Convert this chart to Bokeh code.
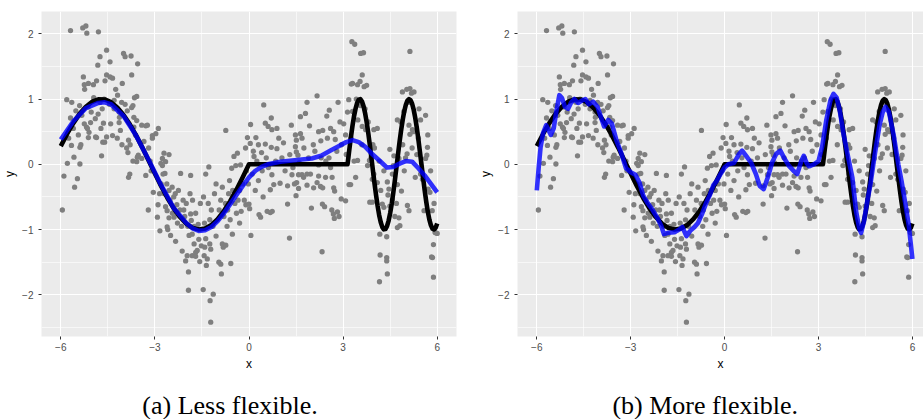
from bokeh.plotting import figure
from bokeh.models import FixedTicker, Label, Range1d
from bokeh.layouts import row, column
from bokeh.embed import file_html
from bokeh.resources import INLINE

# ---------------- data ----------------
band_1 = [(-5.95,-0.70),(-5.90,-0.18),(-5.81,0.99),(-5.79,0.015),(-5.69,2.05),(-5.65,0.95),
          (-5.69,0.71),(-5.66,0.29),(-5.58,0.11),(-5.56,-0.35),(-5.60,0.55),(-5.75,0.40),(-5.52,0.82)]
band_2 = [(-5.47,-0.22),(-5.44,0.45),(-5.39,0.005),(-5.39,0.26),(-5.36,0.30),(-5.30,2.09),(-5.20,2.12),
          (-5.17,2.01),(-5.28,1.34),(-5.25,1.22),(-5.24,1.15),(-5.12,1.24),(-5.18,0.57),(-5.12,0.41),
          (-5.10,0.49),(-5.05,0.64),(-5.03,0.80),(-5.13,0.88),(-5.33,0.75),(-5.25,0.62),(-5.15,0.55),(-5.40,0.90)]
band_3 = [(-4.96,1.22),(-4.89,0.42),(-4.86,0.41),(-4.80,2.03),(-4.82,1.52),(-4.75,1.65),(-4.86,1.28),
          (-4.81,0.77),(-4.70,0.13),(-4.66,0.34),(-4.64,0.63),(-4.60,0.34),(-4.54,0.42),(-4.54,1.75),
          (-4.54,1.37),(-4.59,1.28),(-4.62,1.00),(-4.75,0.95),(-4.68,0.85),(-4.95,1.02),(-4.72,0.55),(-4.90,0.70)]
band_4 = [(-4.43,1.57),(-4.43,1.34),(-4.35,1.32),(-4.41,0.62),(-4.35,0.44),(-4.19,1.06),(-4.14,0.80),
          (-4.13,0.72),(-4.14,0.64),(-4.10,0.52),(-4.06,0.95),(-4.04,1.24),(-4.00,1.70),(-4.45,0.92),
          (-4.30,0.85),(-4.25,1.15),(-4.05,0.30),(-4.30,0.98),(-4.20,0.40)]
band_5 = [(-3.95,1.65),(-3.95,0.92),(-3.88,0.82),(-3.90,0.25),(-3.84,0.37),(-3.79,0.30),(-3.86,0.18),
          (-3.76,1.66),(-3.74,1.37),(-3.74,0.87),(-3.70,0.90),(-3.65,1.02),(-3.58,1.04),(-3.67,0.72),
          (-3.67,0.57),(-3.55,1.54),(-3.58,0.67),(-3.56,0.11),(-3.53,0.14),(-3.58,0.04),(-3.80,-0.15),
          (-3.84,-0.20),(-3.70,0.05),(-3.62,0.45)]
band_6 = [(-3.42,0.60),(-3.42,0.09),(-3.29,0.59),(-3.29,-0.17),(-3.24,0.60),(-3.08,0.44),(-3.08,0.40),
          (-3.21,-0.70),(-3.15,0.05),(-3.05,-0.43),(-3.35,0.35),(-3.20,0.25),(-3.12,-0.10)]
band_7 = [(-2.97,0.47),(-2.89,0.55),(-2.92,-0.81),(-2.84,-1.02),(-2.81,0.015),(-2.76,0.09),(-2.76,-0.02),
          (-2.71,0.17),(-2.68,-0.14),(-2.66,0.04),(-2.66,-0.65),(-2.61,-0.71),(-2.55,0.15),(-2.55,-0.82),
          (-2.61,-0.96),(-2.59,-1.00),(-2.50,-1.09),(-2.74,-0.15),(-2.80,-0.30),(-2.70,-0.45),(-2.62,-0.30),
          (-2.55,-0.40),(-2.52,-0.55),(-2.90,-0.62),(-2.85,-0.45)]
band_8 = [(-2.44,-0.75),(-2.39,-0.81),(-2.34,-1.18),(-2.18,-0.14),(-2.13,-1.33),(-2.02,-1.48),
          (-2.45,-0.35),(-2.40,-0.50),(-2.35,-0.45),(-2.30,-0.62),(-2.25,-0.40),(-2.20,-0.70),(-2.10,-0.55),
          (-2.05,-0.80),(-2.15,-0.95),(-2.28,-0.90),(-2.08,-0.70),(-2.00,-0.60)]
band_9 = [(-1.97,-1.40),(-1.93,-1.65),(-1.93,-1.93),(-1.91,-1.09),(-1.86,-0.17),(-1.86,-0.76),(-1.84,-0.86),
          (-1.81,-1.07),(-1.75,-1.22),(-1.70,-1.35),(-1.81,-1.40),(-1.70,-1.41),(-1.65,-1.32),(-1.57,-1.49),
          (-1.95,-0.95),(-1.88,-0.45),(-1.80,-0.55),(-1.75,-0.95),(-1.70,-0.75),(-1.62,-0.92),(-1.60,-1.15),
          (-1.55,-0.60),(-1.52,-1.25)]
band_10 = [(-1.46,-1.92),(-1.43,-1.40),(-1.41,-1.27),(-1.38,-1.14),(-1.33,-1.45),(-1.36,-1.55),(-1.38,-0.15),
           (-1.28,-0.04),(-1.24,-2.09),(-1.22,-2.42),(-1.14,-1.99),(-1.25,-1.22),(-1.22,-1.30),(-1.20,-0.70),
           (-1.25,-0.85),(-1.30,-0.60),(-1.45,-0.50),(-1.10,-0.45),(-1.15,-0.95),(-1.05,-1.10),(-1.42,-0.90),
           (-1.05,-0.30)]
band_11 = [(-0.96,-1.50),(-0.90,-1.53),(-0.85,-1.22),(-0.82,-1.27),(-0.74,-1.24),(-0.88,-1.68),(-0.74,0.52),
           (-0.58,-1.52),(-0.53,-1.07),(-0.95,-0.70),(-0.90,-0.55),(-0.85,-0.35),(-0.80,-0.80),(-0.70,-0.95),
           (-0.65,-0.45),(-0.62,-0.25),(-0.55,-0.06),(-0.75,-0.60),(-0.68,-0.70),(-0.60,-0.85),(-0.52,-0.40)]
band_12 = [(-0.48,0.12),(-0.42,-0.02),(-0.37,0.17),(-0.27,-0.01),(-0.11,0.25),(-0.05,0.41),(-0.45,-0.60),
           (-0.40,-0.75),(-0.35,-0.55),(-0.30,-0.40),(-0.25,-0.72),(-0.20,-0.30),(-0.15,-0.55),(-0.10,-0.62),
           (-0.08,-0.10),(-0.02,-0.30),(-0.30,-0.90)]
band_13 = [(0.05,0.61),(0.04,0.32),(0.14,0.20),(0.16,0.12),(0.22,0.41),(0.30,0.30),(0.47,0.91),(0.00,-0.61),
           (0.02,-0.68),(0.06,-1.09),(0.32,-0.77),(0.37,-0.81),(0.10,-0.15),(0.20,-0.40),(0.30,-0.25),
           (0.42,-0.10),(0.45,-0.50),(0.25,0.05),(0.40,0.18)]
band_14 = [(0.52,0.63),(0.61,0.58),(0.71,0.71),(0.73,0.53),(0.89,0.55),(0.52,0.31),(0.71,0.26),(0.89,0.24),
           (0.58,-0.72),(0.74,-0.72),(0.68,-0.74),(0.73,-0.16),(0.79,-0.31),(0.68,-0.39),(0.99,-0.29),
           (0.55,0.10),(0.85,0.05),(0.95,0.40),(0.62,-0.05)]
band_15 = [(1.10,0.33),(1.23,-0.33),(1.23,-0.61),(1.29,-1.13),(1.37,-0.16),(1.48,0.45),(1.48,0.27),
           (1.50,-0.48),(1.05,0.10),(1.15,-0.10),(1.30,0.15),(1.40,-0.05),(1.35,0.60),(1.45,-0.30)]
band_16 = [(1.51,0.37),(1.51,0.19),(1.56,0.14),(1.64,0.47),(1.69,0.40),(1.64,0.73),(1.80,0.78),(1.85,0.95),
           (1.93,0.59),(1.52,-0.28),(1.58,-0.16),(1.58,-0.37),(1.69,-0.16),(1.74,-0.20),(1.85,-0.32),
           (1.85,-0.15),(1.96,-0.15),(1.99,-0.67),(1.60,0.02),(1.75,0.25),(1.90,0.10)]
band_17 = [(2.06,-0.36),(2.17,-0.28),(2.17,1.05),(2.22,0.50),(2.22,-0.18),(2.22,-0.01),(2.28,-0.34),
           (2.29,0.36),(2.33,-1.34),(2.34,-0.61),(2.35,0.52),(2.35,-0.36),(2.41,-0.65),(2.44,-0.20),
           (2.48,0.74),(2.50,0.40),(2.10,0.20),(2.30,0.10),(2.45,0.05),(2.05,0.30)]
band_18 = [(2.56,0.83),(2.60,0.55),(2.65,-0.20),(2.64,-0.70),(2.69,-0.76),(2.70,-0.36),(2.70,0.50),
           (2.72,-0.83),(2.73,-0.41),(2.75,0.38),(2.84,0.95),(2.82,-0.73),(2.87,-0.80),(2.90,0.65),
           (2.94,-0.53),(2.55,0.10),(2.80,0.20),(2.95,0.30),(2.60,-0.05)]
band_19 = [(3.02,0.62),(3.08,-0.56),(3.08,0.45),(3.14,0.80),(3.18,0.99),(3.19,-0.31),(3.24,-0.31),
           (3.26,1.23),(3.28,1.88),(3.30,1.24),(3.30,0.81),(3.37,1.84),(3.46,1.22),(3.47,0.68),(3.46,0.06),
           (3.10,0.15),(3.25,0.40),(3.35,0.05),(3.40,-0.20),(3.42,1.00)]
band_20 = [(3.54,1.27),(3.56,1.70),(3.61,1.37),(3.61,0.58),(3.65,1.71),(3.67,1.19),(3.72,0.53),(3.75,1.21),
           (3.78,-0.02),(3.84,0.06),(3.85,-0.58),(3.89,0.10),(3.93,-0.58),(3.93,-0.23),(3.98,0.53),
           (3.98,-0.15),(3.55,0.90),(3.70,0.85),(3.60,0.30),(3.95,0.30),(3.80,0.65)]
band_21 = [(4.09,0.55),(4.09,-0.28),(4.00,0.25),(4.17,-1.07),(4.18,-1.39),(4.16,-1.80),(4.25,-0.61),
           (4.30,-0.66),(4.39,-1.11),(4.39,-1.43),(4.39,-1.48),(4.41,-1.68),(4.41,-0.27),(4.43,-0.47),
           (4.46,-0.38),(4.49,-0.64),(4.49,0.23),(4.15,0.05),(4.30,-0.10),(4.20,-0.40)]
band_22 = [(4.57,-0.15),(4.57,-0.54),(4.60,-0.02),(4.62,0.13),(4.73,-0.31),(4.73,0.68),(4.73,-0.97),
           (4.78,0.09),(4.78,-0.82),(4.81,-0.94),(4.84,0.65),(4.86,-0.41),(4.89,1.11),(4.94,0.81),(4.99,0.10),
           (4.65,-0.80),(4.70,-0.60),(4.90,0.30),(4.95,-0.10)]
band_23 = [(5.03,1.15),(5.04,0.16),(5.05,-0.63),(5.10,-0.71),(5.10,0.60),(5.13,1.73),(5.13,1.16),(5.13,0.46),
           (5.18,1.09),(5.21,0.53),(5.24,0.50),(5.26,1.11),(5.42,0.85),(5.47,0.68),(5.10,0.95),(5.20,0.25),
           (5.30,-0.20),(5.35,0.15),(5.47,-0.15),(5.40,0.40)]
band_24 = [(5.58,-0.71),(5.53,-0.23),(5.71,-0.38),(5.77,-0.43),(5.63,0.75),(5.63,0.09),(5.67,0.14),
           (5.69,0.26),(5.84,-0.71),(5.82,-1.42),(5.85,-1.43),(5.88,-1.23),(5.88,-1.73),(5.93,-1.04),
           (5.95,-1.05),(6.00,-1.06),(5.79,-0.10),(5.90,-0.60),(5.70,0.45)]

bands = [band_1, band_2, band_3, band_4, band_5, band_6, band_7, band_8, band_9, band_10, band_11, band_12,
         band_13, band_14, band_15, band_16, band_17, band_18, band_19, band_20, band_21, band_22, band_23, band_24]
pts_x = [p[0] for b in bands for p in b]
pts_y = [p[1] for b in bands for p in b]

# true function (black)
truth_x = [-6.0,-5.8,-5.6,-5.4,-5.2,-5.0,-4.8,-4.6,-4.4,-4.2,-4.0,-3.8,-3.6,-3.4,-3.2,-3.0,-2.8,-2.6,-2.4,
           -2.2,-2.0,-1.8,-1.6,-1.4,-1.2,-1.0,-0.8,-0.6,-0.4,-0.2,0.0,3.14,
           3.15,3.20,3.25,3.30,3.35,3.40,3.45,3.50,3.55,3.60,3.65,3.70,3.75,3.80,3.85,3.90,3.95,4.00,
           4.05,4.10,4.15,4.20,4.25,4.30,4.35,4.40,4.45,4.50,4.55,4.60,4.65,4.70,4.75,4.80,4.85,4.90,
           4.95,5.00,5.05,5.10,5.15,5.20,5.25,5.30,5.35,5.40,5.45,5.50,5.55,5.60,5.65,5.70,5.75,5.80,
           5.85,5.90,5.95,6.00]
truth_y = [0.279,0.465,0.631,0.773,0.883,0.959,0.996,0.994,0.952,0.872,0.757,0.612,0.443,0.256,0.058,
           -0.141,-0.335,-0.516,-0.675,-0.808,-0.909,-0.974,-1.000,-0.985,-0.932,-0.841,-0.717,-0.565,
           -0.389,-0.199,0.0,0.0,
           0.034,0.232,0.420,0.592,0.741,0.859,0.944,0.991,0.998,0.966,0.895,0.787,0.650,0.487,0.303,
           0.107,-0.092,-0.288,-0.470,-0.637,-0.779,-0.887,-0.962,-0.997,-0.992,-0.948,-0.866,-0.750,
           -0.605,-0.436,-0.247,-0.049,0.150,0.344,0.524,0.682,0.814,0.913,0.976,1.000,0.984,0.928,
           0.837,0.711,0.557,0.381,0.189,-0.009,-0.207,-0.398,-0.572,-0.724,-0.847,-0.935,-0.987,
           -0.999,-0.972,-0.906]

# less flexible fit (blue, panel a)
fit_a_x = [-6.0,-5.6,-5.2,-4.8,-4.6,-4.4,-4.0,-3.6,-3.2,-2.8,-2.4,-2.0,-1.8,-1.6,-1.4,-1.2,-1.0,-0.8,
           -0.6,-0.4,-0.2,0.0,0.2,0.4,0.6,1.0,1.6,2.0,2.3,2.6,2.9,3.1,3.3,3.5,3.7,3.9,4.2,4.4,4.6,4.8,
           5.0,5.2,5.4,5.6,5.8,6.0]
fit_a_y = [0.38,0.66,0.86,0.94,0.95,0.92,0.74,0.44,0.07,-0.32,-0.67,-0.90,-0.98,-1.02,-1.01,-0.96,
           -0.87,-0.75,-0.61,-0.47,-0.33,-0.20,-0.10,-0.04,0.0,0.04,0.07,0.09,0.13,0.21,0.29,0.34,
           0.37,0.34,0.27,0.17,0.04,-0.05,-0.04,0.01,0.05,0.04,-0.06,-0.17,-0.30,-0.43]

# more flexible fit (blue, panel b)
fit_b_x = [-6.00,-5.94,-5.88,-5.80,-5.70,-5.62,-5.55,-5.46,-5.38,-5.28,-5.20,-5.10,-5.00,-4.90,-4.80,
           -4.68,-4.55,-4.45,-4.34,-4.20,-4.06,-3.95,-3.85,-3.72,-3.60,-3.45,-3.30,-3.15,-3.00,-2.85,
           -2.72,-2.60,-2.45,-2.30,-2.15,-2.02,-1.94,-1.80,-1.60,-1.45,-1.35,-1.22,-1.10,-0.98,-0.85,
           -0.72,-0.58,-0.48,-0.36,-0.26,-0.12,0.00,0.12,0.30,0.45,0.56,0.70,0.85,1.00,1.12,1.25,1.38,
           1.52,1.65,1.78,1.92,2.05,2.20,2.32,2.45,2.53,2.62,2.70,2.85,3.00,3.12,3.25,3.38,3.48,3.58,
           3.68,3.80,3.95,4.08,4.20,4.30,4.36,4.45,4.56,4.66,4.80,4.95,5.05,5.14,5.25,5.40,5.55,5.65,
           5.78,5.88,6.00]
fit_b_y = [-0.40,-0.05,0.26,0.48,0.60,0.52,0.45,0.55,0.80,1.06,1.02,0.88,0.85,0.95,1.00,0.94,0.98,1.00,
           0.92,0.96,0.88,0.72,0.58,0.68,0.62,0.36,0.17,-0.06,-0.12,-0.16,-0.28,-0.48,-0.60,-0.70,-0.82,
           -0.95,-1.07,-1.05,-1.04,-1.00,-0.96,-1.10,-1.02,-0.97,-0.90,-0.76,-0.58,-0.48,-0.32,-0.26,
           -0.14,-0.05,0.00,0.02,0.15,0.21,0.12,0.02,-0.15,-0.33,-0.38,-0.20,0.03,0.16,0.21,0.08,-0.02,
           -0.10,-0.15,0.05,0.13,0.02,-0.03,0.00,0.05,0.28,0.68,0.98,1.08,1.02,0.82,0.46,0.10,-0.20,
           -0.72,-0.98,-1.05,-0.88,-0.56,-0.30,0.16,0.60,0.80,0.88,0.80,0.45,0.00,-0.25,-0.62,-0.92,-1.45]

x_ticks = [-6, -3, 0, 3, 6]
x_tick_labels = ["\u22126", "\u22123", "0", "3", "6"]
x_minor = [-4.5, -1.5, 1.5, 4.5]
y_ticks = [-2, -1, 0, 1, 2]
y_tick_labels = ["\u22122", "\u22121", "0", "1", "2"]
y_minor = [-2.5, -1.5, -0.5, 0.5, 1.5]

captions = ["(a) Less flexible.", "(b) More flexible."]

Y_RANGE = (-2.639, 2.342)
SANS = "Liberation Sans"
MAIN_H = 378
CAP_H = 41


def panel(width, x_range, border_right, fit_x, fit_y):
    p = figure(width=width, height=MAIN_H, x_range=x_range, y_range=Y_RANGE,
               output_backend="svg", toolbar_location=None,
               min_border_left=41, min_border_right=border_right,
               min_border_top=11, min_border_bottom=MAIN_H - 336,
               background_fill_color="#EBEBEB", border_fill_color="white",
               outline_line_color=None)
    xt = FixedTicker(ticks=x_ticks, minor_ticks=x_minor)
    yt = FixedTicker(ticks=y_ticks, minor_ticks=y_minor)
    p.xaxis.ticker = xt
    p.xgrid.ticker = xt
    p.yaxis.ticker = yt
    p.ygrid.ticker = yt
    p.xaxis.major_label_overrides = dict(zip(x_ticks, x_tick_labels))
    p.yaxis.major_label_overrides = dict(zip(y_ticks, y_tick_labels))
    for ax in (p.xaxis, p.yaxis):
        ax.axis_line_color = None
        ax.major_tick_line_color = "#333333"
        ax.major_tick_line_width = 1
        ax.major_tick_in = 0
        ax.major_tick_out = 3
        ax.minor_tick_line_color = None
        ax.major_label_text_color = "#4D4D4D"
        ax.major_label_text_font = SANS
        ax.major_label_text_font_size = "10px"
        ax.axis_label_text_font = SANS
        ax.axis_label_text_font_size = "12px"
        ax.axis_label_text_font_style = "normal"
        ax.axis_label_text_color = "black"
    p.xaxis.axis_label = "x"
    p.yaxis.axis_label = "y"
    p.xaxis.major_label_standoff = 2
    p.yaxis.major_label_standoff = 4
    p.xaxis.axis_label_standoff = 3
    p.yaxis.axis_label_standoff = 2
    for g in (p.xgrid, p.ygrid):
        g.grid_line_color = "white"
        g.grid_line_width = 1.1
        g.minor_grid_line_color = "white"
        g.minor_grid_line_width = 0.6

    p.scatter(pts_x, pts_y, size=5.3, color="#7F7F7F", line_color=None)
    p.line(truth_x, truth_y, line_width=4.6, color="black", line_join="round")
    p.line(fit_x, fit_y, line_width=4.6, color="#0000FF", line_alpha=0.8, line_join="round")
    return p


def caption_box(width, text, center_x):
    c = figure(width=width, height=CAP_H, x_range=Range1d(0, width), y_range=Range1d(0, CAP_H),
               output_backend="svg", toolbar_location=None,
               min_border_left=0, min_border_right=0, min_border_top=0, min_border_bottom=0,
               x_axis_type=None, y_axis_type=None, outline_line_color=None,
               background_fill_color="white", border_fill_color="white")
    c.grid.visible = False
    c.add_layout(Label(x=center_x, y=14, text=text, text_align="center", text_baseline="alphabetic",
                       text_font="Liberation Serif", text_font_size="26px", text_color="black"))
    return c


pa = panel(476, (-6.615, 6.615), 20, fit_a_x, fit_a_y)
pb = panel(447, (-6.617, 6.354), 0, fit_b_x, fit_b_y)
ca = caption_box(476, captions[0], 229.5)
cb = caption_box(447, captions[1], 228.7)

layout = column(row(pa, pb), row(ca, cb))
open("out.html", "w").write(file_html(layout, INLINE))
